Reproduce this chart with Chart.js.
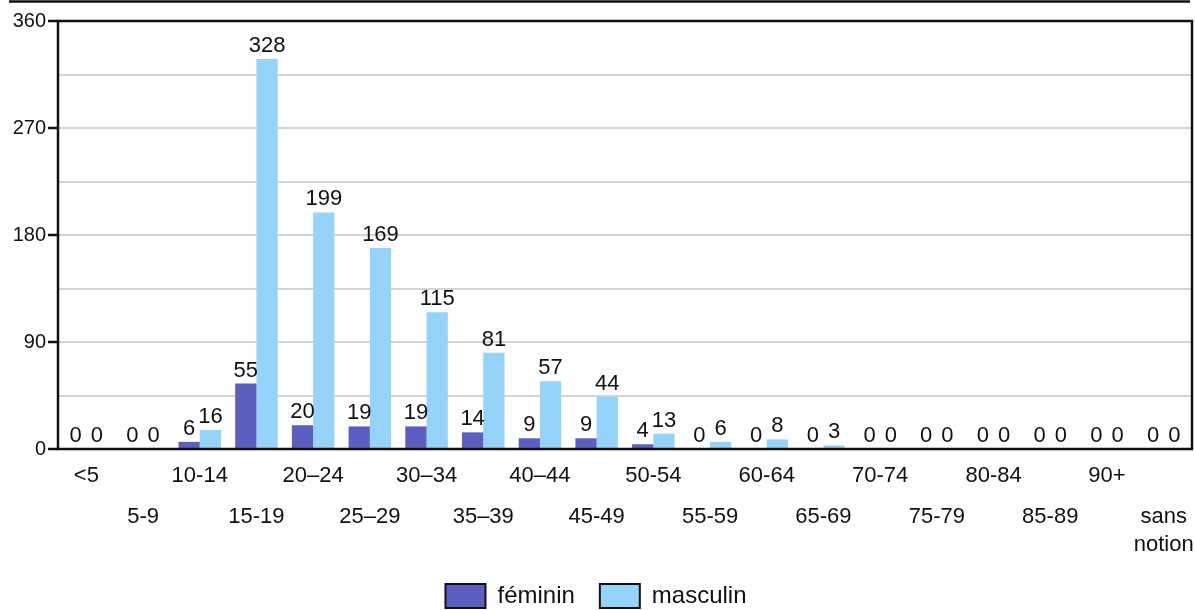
<!DOCTYPE html>
<html>
<head>
<meta charset="utf-8">
<script src="https://cdn.jsdelivr.net/npm/chart.js@4.4.0/dist/chart.umd.min.js"></script>
<style>
  html, body { margin: 0; padding: 0; background: #fff; overflow: hidden; }
  #wrap { width: 1195px; height: 610px; position: relative; }
</style>
</head>
<body>
<div id="wrap"><canvas id="chart"></canvas></div>
<script>
// Data
const ageGroups = ["<5", "5-9", "10-14", "15-19", "20–24", "25–29", "30–34", "35–39", "40–44", "45-49",
  "50-54", "55-59", "60-64", "65-69", "70-74", "75-79", "80-84", "85-89", "90+", ["sans", "notion"]];
const feminin = [0, 0, 6, 55, 20, 19, 19, 14, 9, 9, 4, 0, 0, 0, 0, 0, 0, 0, 0, 0];
const masculin = [0, 0, 16, 328, 199, 169, 115, 81, 57, 44, 13, 6, 8, 3, 0, 0, 0, 0, 0, 0];
const yTicks = [0, 90, 180, 270, 360];

const FONT = "'Liberation Sans', Arial, sans-serif";

// value labels, box border, x labels in two rows, top rule
const decorations = {
  id: "decorations",
  afterDatasetsDraw(chart) {
    const ctx = chart.ctx;
    const area = chart.chartArea;
    ctx.save();
    ctx.fillStyle = "#111";
    ctx.font = "22px " + FONT;
    ctx.textAlign = "center";
    ctx.textBaseline = "alphabetic";
    chart.data.datasets.forEach((ds, di) => {
      chart.getDatasetMeta(di).data.forEach((bar, i) => {
        ctx.fillText(String(ds.data[i]), bar.x, bar.y - 7);
      });
    });

    // plot frame
    ctx.strokeStyle = "#111";
    ctx.lineWidth = 2.5;
    ctx.strokeRect(area.left, area.top, area.right - area.left, area.bottom - area.top);

    // top rule
    ctx.beginPath();
    ctx.moveTo(9, 1.5);
    ctx.lineTo(1190, 1.5);
    ctx.stroke();

    // category labels, alternating rows
    const xs = chart.scales.x;
    ctx.textBaseline = "middle";
    ageGroups.forEach((lab, i) => {
      const x = xs.getPixelForValue(i);
      const lines = Array.isArray(lab) ? lab : [lab];
      const y0 = area.bottom + (i % 2 === 0 ? 27 : 68);
      lines.forEach((t, k) => ctx.fillText(t, x, y0 + k * 28));
    });
    ctx.restore();
  }
};

new Chart(document.getElementById("chart"), {
  type: "bar",
  data: {
    labels: ageGroups.map(l => Array.isArray(l) ? l.join(" ") : l),
    datasets: [{
      label: "féminin",
      data: feminin,
      backgroundColor: "#5c5fbf"
    }, {
      label: "masculin",
      data: masculin,
      backgroundColor: "#95d4f8"
    }]
  },
  options: {
    responsive: true,
    maintainAspectRatio: false,
    animation: false,
    layout: { padding: { top: 21, right: 3, left: 0, bottom: -8 } },
    datasets: { bar: { categoryPercentage: 0.75, barPercentage: 1 } },
    plugins: {
      tooltip: { enabled: false },
      legend: {
        position: "bottom",
        labels: {
          color: "#111",
          font: { family: FONT, size: 24 },
          boxWidth: 40,
          boxHeight: 24,
          padding: 25,
          generateLabels(chart) {
            return chart.data.datasets.map((ds, i) => ({
              text: ds.label,
              fillStyle: ds.backgroundColor,
              strokeStyle: "#111",
              lineWidth: 2,
              fontColor: "#111",
              datasetIndex: i
            }));
          }
        }
      }
    },
    scales: {
      x: {
        grid: { display: false, drawTicks: false },
        border: { display: false },
        ticks: { display: false },
        afterFit(scale) { scale.height = 110; }
      },
      y: {
        min: 0,
        max: 360,
        afterFit(scale) { scale.width = 58; },
        border: { display: false },
        grid: {
          color: ctx => (ctx.tick && (ctx.tick.value === 0 || ctx.tick.value === 360)) ? "rgba(0,0,0,0)" : "#d4d4d4",
          lineWidth: 2,
          tickLength: 10,
          tickColor: ctx => yTicks.includes(ctx.tick.value) ? "#111" : "rgba(0,0,0,0)",
          tickWidth: 2.5
        },
        ticks: {
          stepSize: 45,
          padding: 2,
          color: "#111",
          font: { family: FONT, size: 20 },
          callback: v => yTicks.includes(v) ? String(v) : ""
        }
      }
    }
  },
  plugins: [decorations]
});
</script>
</body>
</html>
